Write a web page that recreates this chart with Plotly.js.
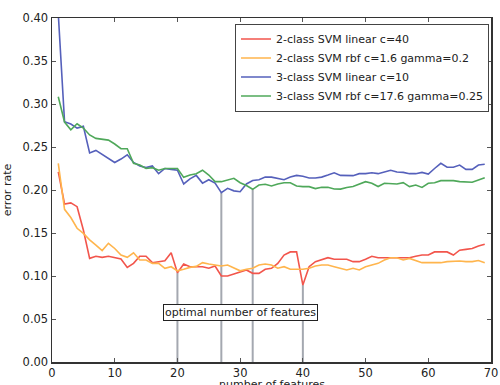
<!DOCTYPE html>
<html>
<head>
<meta charset="utf-8">
<script src="https://cdn.plot.ly/plotly-3.0.1.min.js"></script>
<style>html,body{margin:0;padding:0;background:#fff;}#chart{width:500px;height:385px;}</style>
</head>
<body>
<div id="chart"></div>
<script>
// number of features
const features = Array.from({length: 69}, (_, i) => i + 1);

const names = [
  "2-class SVM linear c=40",
  "2-class SVM rbf c=1.6 gamma=0.2",
  "3-class SVM linear c=10",
  "3-class SVM rbf c=17.6 gamma=0.25"
];

const linear2 = [0.221,0.1837,0.185,0.1806,0.1535,0.1205,0.123,0.1217,0.123,0.1217,
  0.1198,0.110,0.1147,0.123,0.123,0.1155,0.1163,0.1178,0.127,0.1038,
  0.114,0.1108,0.1108,0.1108,0.109,0.1116,0.100,0.100,0.1023,0.105,
  0.107,0.1031,0.1031,0.1078,0.109,0.1147,0.1244,0.128,0.128,0.0895,
  0.1108,0.1167,0.1194,0.1213,0.1194,0.1194,0.1194,0.1167,0.1167,0.1194,
  0.123,0.1213,0.1213,0.1213,0.1213,0.1213,0.1213,0.123,0.1244,0.1244,
  0.128,0.128,0.128,0.1244,0.130,0.131,0.132,0.135,0.137];

const rbf2 = [0.231,0.1775,0.168,0.1555,0.1496,0.142,0.136,0.1295,0.138,0.132,
  0.1244,0.1217,0.127,0.1186,0.1186,0.1147,0.1147,0.109,0.1108,0.106,
  0.1078,0.110,0.1112,0.1155,0.114,0.1128,0.1116,0.1128,0.109,0.106,
  0.1078,0.109,0.1128,0.114,0.1128,0.109,0.1108,0.1078,0.1078,0.1078,
  0.109,0.1116,0.1128,0.1128,0.1108,0.109,0.107,0.109,0.107,0.1108,
  0.1128,0.1147,0.1186,0.1213,0.1213,0.1186,0.1205,0.118,0.1155,0.1155,
  0.1155,0.1155,0.1167,0.1175,0.1175,0.1167,0.1167,0.118,0.1155];

const linear3 = [0.405,0.2794,0.2767,0.272,0.274,0.243,0.246,0.241,0.237,0.232,
  0.236,0.241,0.232,0.228,0.226,0.228,0.219,0.225,0.224,0.223,
  0.207,0.213,0.217,0.208,0.212,0.208,0.197,0.202,0.199,0.198,
  0.207,0.211,0.212,0.215,0.215,0.2136,0.212,0.215,0.217,0.216,
  0.214,0.214,0.215,0.2174,0.220,0.217,0.2167,0.2167,0.219,0.219,
  0.220,0.219,0.221,0.223,0.221,0.2205,0.219,0.219,0.2205,0.2186,
  0.225,0.231,0.2264,0.2264,0.229,0.224,0.224,0.229,0.230];

const rbf3 = [0.3085,0.279,0.270,0.277,0.272,0.264,0.260,0.259,0.258,0.2535,
  0.248,0.248,0.231,0.229,0.225,0.226,0.223,0.225,0.225,0.225,
  0.2147,0.2174,0.219,0.223,0.2174,0.2097,0.2097,0.2116,0.2136,0.2085,
  0.2052,0.2008,0.2058,0.2066,0.2047,0.207,0.2085,0.2085,0.2047,0.2039,
  0.2039,0.2016,0.2031,0.2031,0.2012,0.201,0.203,0.204,0.207,0.2097,
  0.2078,0.204,0.2078,0.207,0.207,0.2085,0.204,0.2058,0.203,0.2078,
  0.2085,0.2109,0.2109,0.2109,0.2097,0.209,0.209,0.2116,0.2143];

// optimal feature counts and the curve each marker line rises to
const optimalFeatures = [20, 27, 32, 40];
const optimalSeries = [linear2, linear3, rbf3, linear2];

const xTicks = [0, 10, 20, 30, 40, 50, 60, 70];
const yTicks = [0.00, 0.05, 0.10, 0.15, 0.20, 0.25, 0.30, 0.35, 0.40];

const colors = ["#f2554c", "#ffb54d", "#5560bb", "#4fa85a"];
const series = [linear2, rbf2, linear3, rbf3];

const traces = [];
optimalFeatures.forEach((f, i) => {
  const top = optimalSeries[i][features.indexOf(f)];
  traces.push({
    x: [f, f], y: [0, top], mode: "lines", showlegend: false, hoverinfo: "skip",
    line: {color: "#a4a8b0", width: 2}
  });
});
series.forEach((s, i) => {
  traces.push({
    x: features, y: s, name: names[i], mode: "lines",
    line: {color: colors[i], width: 1.6}
  });
});

const font = {family: "DejaVu Sans, sans-serif", size: 11, color: "#222"};

const layout = {
  width: 500, height: 385,
  margin: {l: 52, r: 9, t: 18, b: 23},
  paper_bgcolor: "#fff", plot_bgcolor: "#fff",
  font: font,
  showlegend: true,
  legend: {
    x: 0.9954, xanchor: "right", y: 0.984, yanchor: "top",
    bgcolor: "#fff", bordercolor: "#444", borderwidth: 1,
    font: {family: "DejaVu Sans, sans-serif", size: 11, color: "#222"},
    tracegroupgap: 0, itemwidth: 30
  },
  xaxis: {
    range: [0, 70], tickvals: xTicks, ticktext: xTicks.map(String),
    ticks: "inside", ticklen: 4, tickcolor: "#555", mirror: "ticks",
    showline: true, linecolor: "#333", linewidth: 1.5,
    showgrid: false, zeroline: false,
    tickfont: {size: 11.5, color: "#222"}
  },
  yaxis: {
    range: [0, 0.4], tickvals: yTicks, ticktext: yTicks.map(v => v.toFixed(2)),
    ticks: "inside", ticklen: 4, tickcolor: "#555", mirror: "ticks",
    showline: true, linecolor: "#333", linewidth: 1.5,
    showgrid: false, zeroline: false,
    title: {text: "error rate", font: {size: 11, color: "#222"}, standoff: 8},
    tickfont: {size: 11.5, color: "#222"}
  },
  annotations: [{
    x: 30.1, y: 0.057, xref: "x", yref: "y",
    text: "optimal number of features", showarrow: false,
    bgcolor: "#fff", bordercolor: "#222", borderwidth: 1, borderpad: 1,
    font: {size: 11, color: "#222"}
  }, {
    x: 0.5, y: 0, xref: "paper", yref: "paper", xanchor: "center", yanchor: "top",
    yshift: -14, text: "number of features", showarrow: false,
    font: {size: 11, color: "#222"}
  }]
};

Plotly.newPlot("chart", traces, layout, {displayModeBar: false, staticPlot: true});
</script>
</body>
</html>
